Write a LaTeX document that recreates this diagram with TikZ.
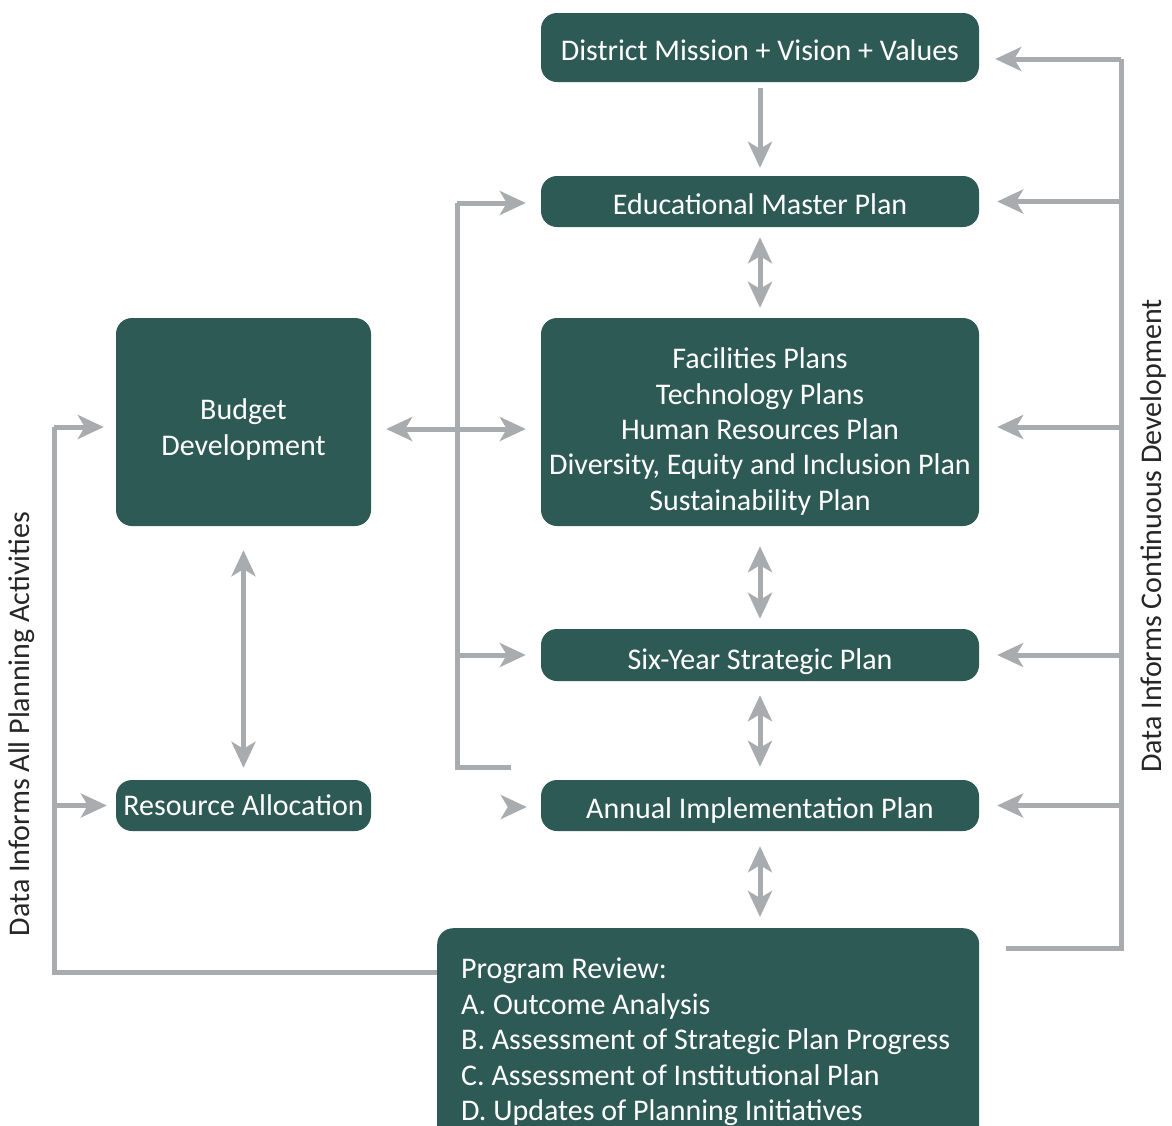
\documentclass[tikz,border=0pt]{standalone}
\usepackage{fontspec}
\setmainfont{Carlito}
\usetikzlibrary{arrows.meta}
\definecolor{teal}{HTML}{2E5A55}
\definecolor{lgray}{HTML}{A9ACAF}
\tikzset{
  box/.style={fill=teal, draw=none, rounded corners=16pt, inner sep=0pt},
  btxt/.style={text=white, inner sep=0pt, align=center, text depth=0pt, font=\fontsize{30}{35.4}\selectfont},
  line/.style={draw=lgray, line width=5pt},
  arr/.style={line, -{Stealth[length=26pt, width=24pt, inset=7pt]}},
  dbl/.style={line, {Stealth[length=26pt, width=24pt, inset=7pt]}-{Stealth[length=26pt, width=24pt, inset=7pt]}},
  side/.style={font=\fontsize{30}{34}\selectfont, text=black!85, rotate=90, inner sep=0pt}
}
\begin{document}
\begin{tikzpicture}[x=1pt, y=-1pt]
\path[use as bounding box] (0,0) rectangle (1172,1125);
\clip (0,0) rectangle (1172,1125);
% boxes
\node[box, minimum width=438pt, minimum height=69pt,
  label={[btxt, yshift=-3pt]center:District Mission + Vision + Values}] (mission) at (760,47.5) {};
\node[box, minimum width=438pt, minimum height=51pt,
  label={[btxt, yshift=-3pt]center:Educational Master Plan}] (emp) at (760,201.5) {};
\node[box, minimum width=438pt, minimum height=208pt,
  label={[btxt, yshift=-7pt]center:{Facilities Plans\\Technology Plans\\Human Resources Plan\\Diversity, Equity and Inclusion Plan\\Sustainability Plan}}] (fac) at (760,422) {};
\node[box, minimum width=438pt, minimum height=52pt,
  label={[btxt, yshift=-4pt]center:Six-Year Strategic Plan}] (six) at (760,655) {};
\node[box, minimum width=438pt, minimum height=51pt,
  label={[btxt, yshift=-3pt]center:Annual Implementation Plan}] (annual) at (760,805.5) {};
\node[box, minimum width=255pt, minimum height=208pt,
  label={[btxt, yshift=-5pt]center:{Budget\\Development}}] (budget) at (243.5,422) {};
\node[box, minimum width=255pt, minimum height=51pt,
  label={[btxt]center:Resource Allocation}] (resource) at (243.5,805.5) {};
\node[box, minimum width=542pt, minimum height=230pt, anchor=north west] (review) at (437,928) {};
\node[btxt, anchor=north west, align=left] (reviewtext) at (461,958) {Program Review:\\A. Outcome Analysis\\B. Assessment of Strategic Plan Progress\\C. Assessment of Institutional Plan\\D. Updates of Planning Initiatives};
% side labels
\node[side] (lefttext) at (22,724) {Data Informs All Planning Activities};
\node[side] (righttext) at (1153,536) {Data Informs Continuous Development};
% central vertical arrows
\draw[arr, shorten <=6pt, shorten >=8pt] (mission) -- (emp);
\draw[dbl, shorten <=10pt, shorten >=10pt] (emp) -- (fac);
\draw[dbl, shorten <=20pt, shorten >=10pt] (fac) -- (six);
\draw[dbl, shorten <=14pt, shorten >=13pt] (six) -- (annual);
\draw[dbl, shorten <=15pt, shorten >=11pt] (annual) -- (review.north -| annual.south);
% budget
\draw[dbl, shorten <=15pt, shorten >=15pt] (budget.east |- 0,429) -- (fac.west |- 0,429);
\draw[dbl, shorten <=24pt, shorten >=12pt] (budget) -- (resource);
% middle bracket
\coordinate (mt) at (457,203);
\coordinate (mb) at (457,767);
\coordinate (mbe) at (511,767);
\draw[line] (mt) -- (mb) -- (mbe);
\draw[arr, shorten >=15pt] (mt) -- (emp.west |- mt);
\draw[arr, shorten >=15pt] (mt |- six.west) -- (six.west);
\coordinate (tipstart) at (510,807);
\draw[arr, shorten >=14pt] (tipstart) -- (annual.west |- tipstart);
% left bracket
\coordinate (lt) at (54,427);
\coordinate (lb) at (54,972);
\draw[line] (lb -| review.west) -- (lb) -- (lt);
\draw[arr, shorten >=12pt] (lt) -- (budget.west |- lt);
\draw[arr, shorten >=9pt] (lt |- resource.west) -- (resource.west);
% right bracket
\coordinate (rt) at (1121,59);
\coordinate (rb) at (1121,948);
\coordinate (rbe) at (1006,948);
\draw[line] (rbe) -- (rb) -- (rt);
\draw[arr, shorten >=16pt] (rt) -- (mission.east |- rt);
\draw[arr, shorten >=18pt] (rt |- emp.east) -- (emp.east);
\draw[arr, shorten >=18pt] (1121,427) -- (fac.east |- 0,427);
\draw[arr, shorten >=18pt] (rt |- six.east) -- (six.east);
\draw[arr, shorten >=18pt] (rt |- annual.east) -- (annual.east);
\end{tikzpicture}
\end{document}
